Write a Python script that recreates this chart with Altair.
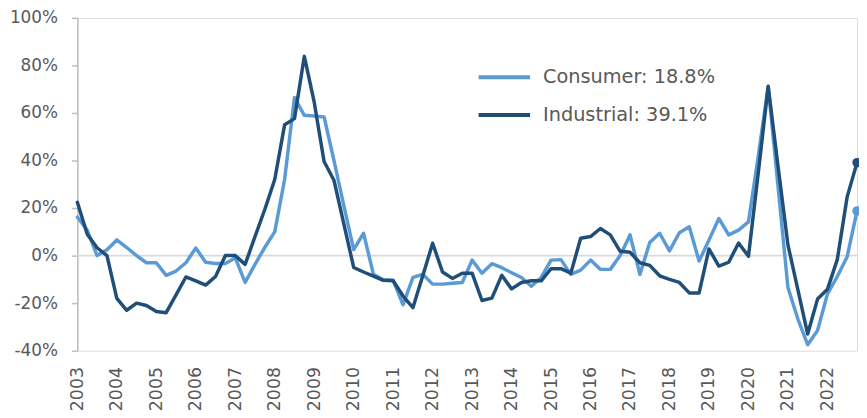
import altair as alt
import pandas as pd

series_names = ["Consumer", "Industrial"]
latest_labels = ["18.8%", "39.1%"]
colors = ["#5B9BD5", "#1F4E79"]

start_year = 2003
years = list(range(2003, 2023))

consumer = [16.2, 10.7, 0, 2.5, 6.6, 3.4, 0, -3, -3, -8.3,
            -6.5, -3, 3.2, -2.8, -3.3, -3.3, -1, -11.3, -3.7, 3.5,
            10, 32, 66.5, 59, 58.7, 58.3, 40, 21, 2.5, 9.4,
            -7.9, -10.2, -10.4, -20.7, -9.2, -7.9, -12, -12, -11.6, -11.3,
            -1.9, -7.4, -3.4, -5.1, -7.2, -9.2, -12.9, -9.2, -1.9, -1.7,
            -7.9, -6.1, -1.9, -5.8, -5.8, 0, 8.7, -7.9, 5.5, 9.4,
            2, 9.6, 12.1, -2.3, 6.6, 15.6, 8.7, 10.7, 14.2, 42,
            71.3, 29, -13.4, -26.6, -37.5, -31.5, -16.2, -8.8, -0.5, 18.8]

industrial = [22.4, 9, 3.3, 0, -18, -23, -20, -21, -23.5, -24,
              -16.5, -9, -10.6, -12.4, -8.8, 0, 0, -3.7, 8, 19.5,
              32, 55, 57.6, 83.8, 64.5, 39.6, 31.7, 13.3, -5, -6.9,
              -8.6, -10.4, -10.6, -17, -21.9, -8.5, 5.2, -6.9, -9.6, -7.4,
              -7.4, -18.9, -17.9, -8.3, -14, -11.3, -10.6, -10.6, -5.5, -5.5,
              -7.4, 7.3, 8, 11.4, 8.7, 1.8, 1.4, -3, -4.1, -8.5,
              -10, -11.3, -15.7, -15.7, 2.8, -4.4, -2.8, 5.3, -0.3, 35,
              71.1, 37.5, 4.5, -14.2, -33, -18.3, -14.2, -1.7, 24.7, 39.1]

y_ticks = [-40, -20, 0, 20, 40, 60, 80, 100]

labels = [f"{n}: {l}" for n, l in zip(series_names, latest_labels)]

rows = []
for lab, vals in zip(labels, [consumer, industrial]):
    for i, v in enumerate(vals):
        rows.append({"series": lab, "t": start_year + i / 4, "v": v})
df = pd.DataFrame(rows)
last_t = df["t"].max()
df_last = df[df["t"] == last_t]

FONT = "DejaVu Sans"
GRAY = "#595959"

x_enc = alt.X("t:Q",
              scale=alt.Scale(domain=[start_year, last_t], nice=False, zero=False),
              axis=alt.Axis(values=years, format="d", labelAngle=270, labelAlign="right",
                            labelBaseline="middle", domain=False, ticks=False, grid=False,
                            labelPadding=16, labelFontSize=17.5, labelColor=GRAY, labelFont=FONT,
                            labelOverlap=False, title=None))
y_enc = alt.Y("v:Q",
              scale=alt.Scale(domain=[-40, 100], nice=False),
              axis=alt.Axis(values=y_ticks, labelExpr="datum.value + '%'", grid=False,
                            domainColor="#BFBFBF", domainWidth=1.5, tickColor="#BFBFBF",
                            tickWidth=1.5, tickSize=6, labelPadding=14, labelFontSize=17,
                            labelColor=GRAY, labelFont=FONT, title=None))
color_enc = alt.Color("series:N",
                      scale=alt.Scale(domain=labels, range=colors),
                      legend=alt.Legend(orient="none", legendX=403, legendY=32, title=None,
                                        symbolType="stroke", symbolSize=2704,
                                        symbolStrokeWidth=4, labelFontSize=19.5,
                                        labelColor=GRAY, labelFont=FONT, labelOffset=11,
                                        labelLimit=400, rowPadding=-12, padding=0))

zero = alt.Chart(pd.DataFrame({"y": [0]})).mark_rule(color="#D9D9D9", strokeWidth=1.8).encode(
    y=alt.Y("y:Q", scale=alt.Scale(domain=[-40, 100], nice=False)))

lines = alt.Chart(df).mark_line(strokeWidth=3.5, strokeJoin="round", strokeCap="round").encode(
    x=x_enc, y=y_enc, color=color_enc)

dots = alt.Chart(df_last).mark_circle(size=90, opacity=1).encode(
    x=x_enc, y=y_enc, color=color_enc)

chart = alt.layer(zero, lines, dots).properties(
    width=787, height=336,
    autosize=alt.AutoSizeParams(type="none"),
    padding={"left": 70, "top": 8, "right": 2, "bottom": 64},
).configure_view(stroke=None).configure(background="white")

chart.save("out.html", embed_options={"renderer": "svg", "actions": False})
